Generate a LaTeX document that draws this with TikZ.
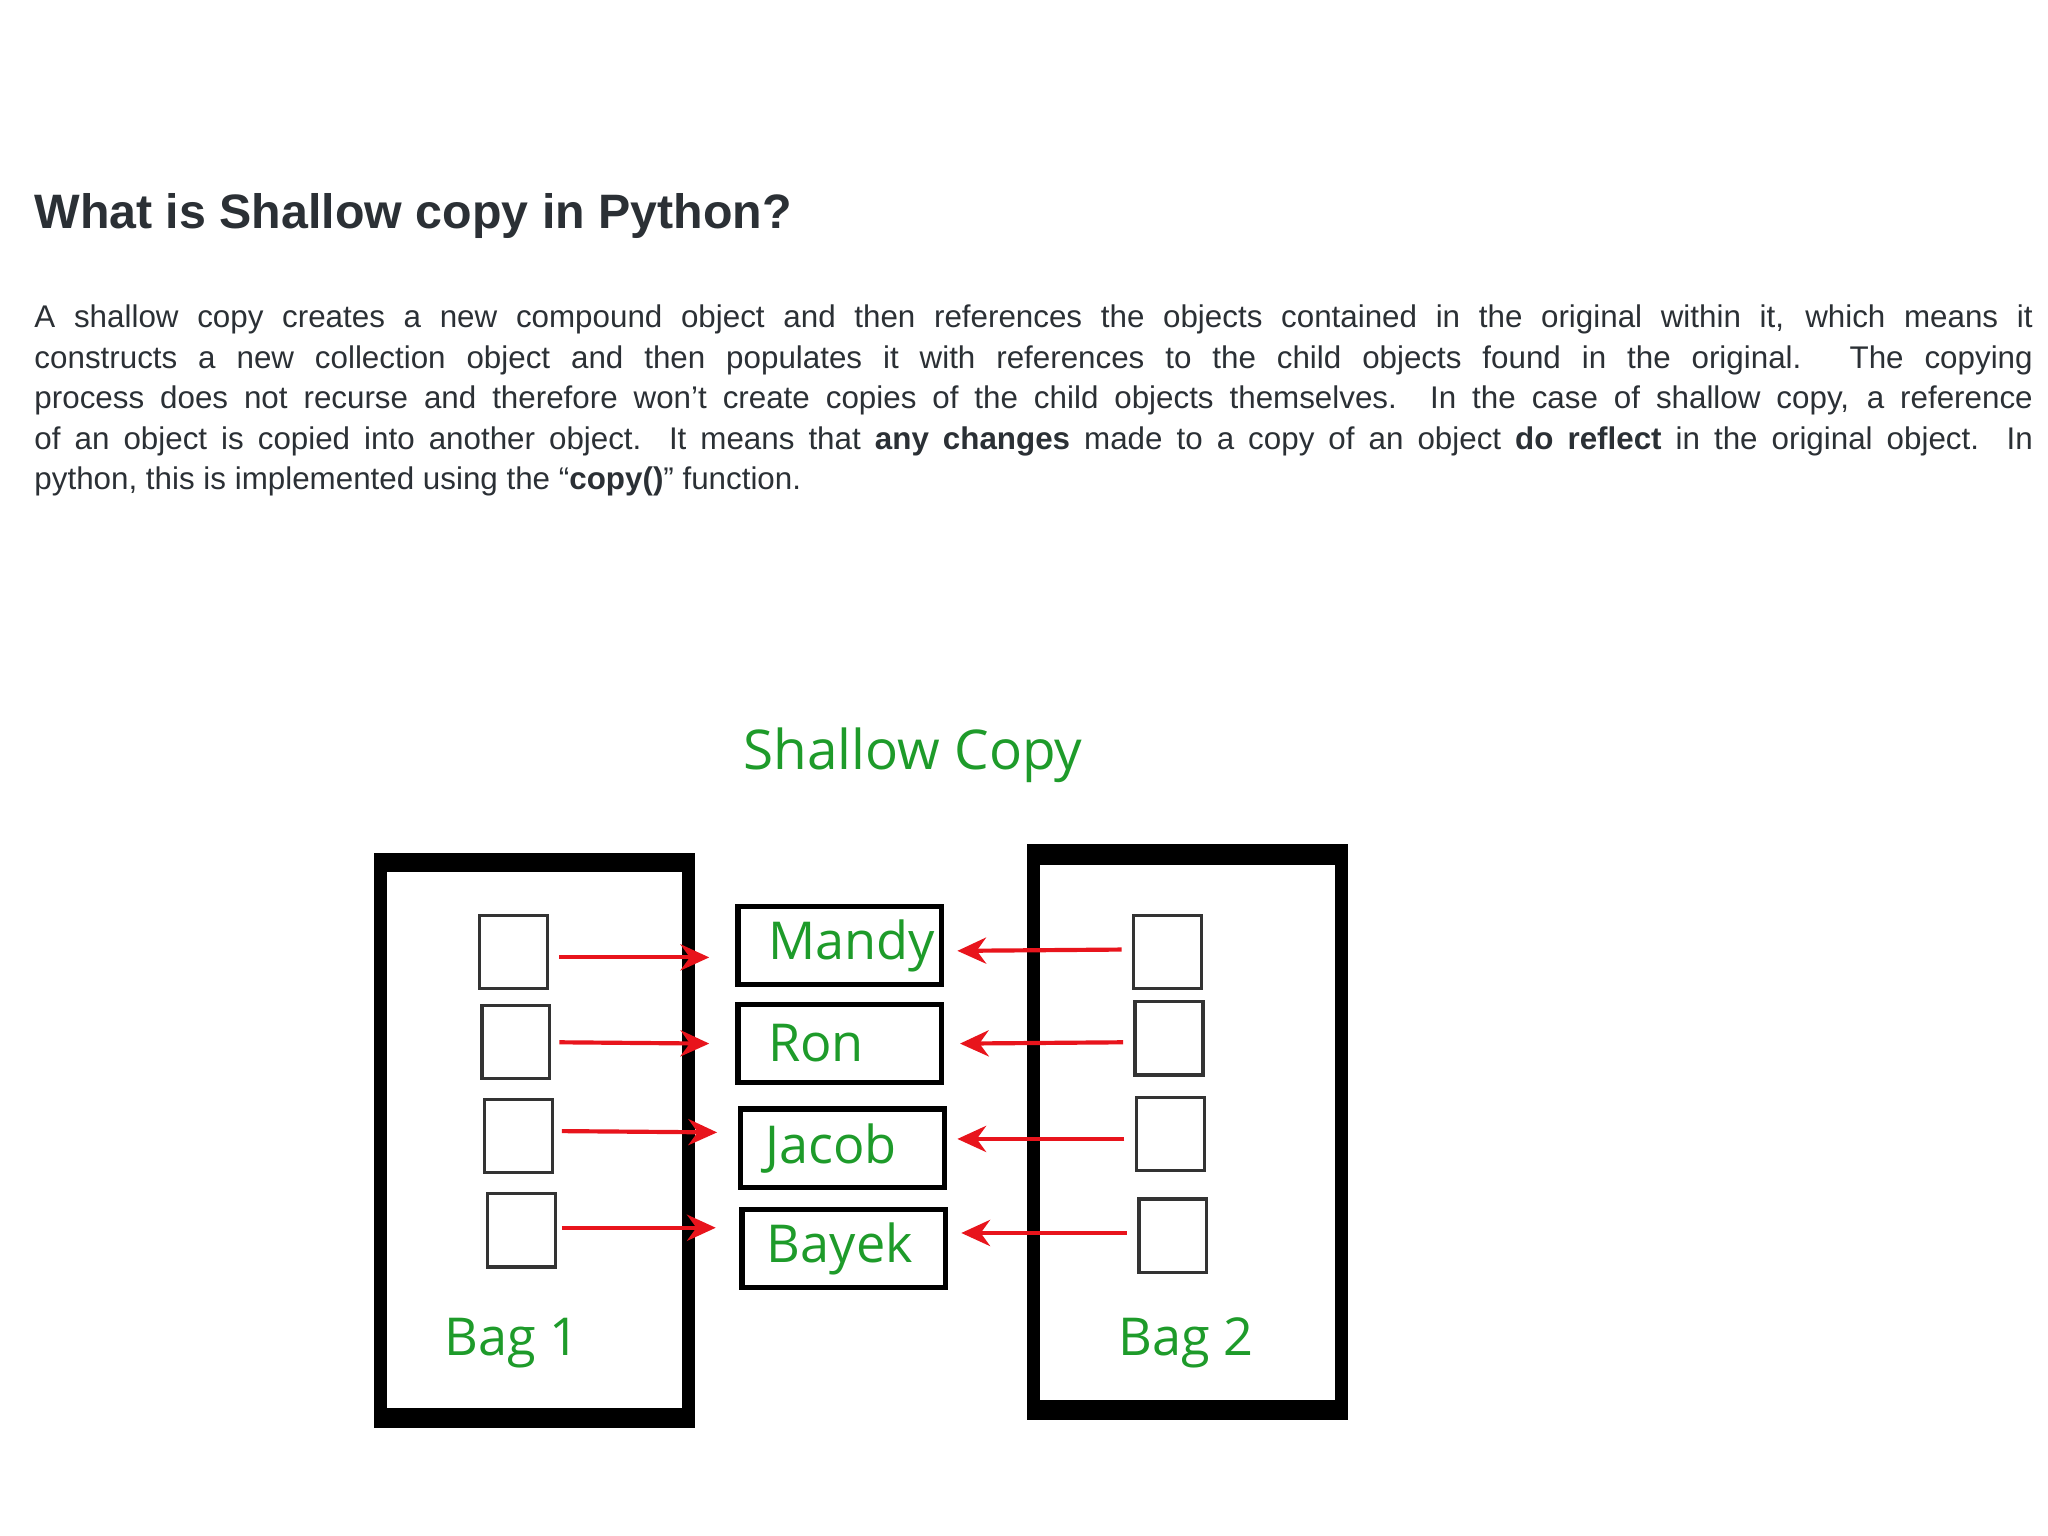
\documentclass[tikz,border=0pt]{standalone}
\usepackage{fontspec}
\setmainfont{Liberation Sans}
\newfontfamily\dfont{Open Sans}
\usetikzlibrary{arrows.meta}
\definecolor{txt}{HTML}{2B3035}
\definecolor{gr}{HTML}{1E9B2A}
\definecolor{rd}{HTML}{E8141C}
\begin{document}
\begin{tikzpicture}[x=0.5pt,y=-0.5pt,
  sq/.style={draw=black!80,line width=1.2pt,minimum width=26pt,minimum height=28pt,inner sep=0pt},
  namebox/.style={draw=black,line width=2pt,minimum width=78pt,minimum height=30pt,inner sep=0pt},
  nm/.style={text=gr,font=\dfont\fontsize{20}{24}\selectfont},
  arr/.style={draw=rd,line width=1.6pt,-{Stealth[length=11pt,width=10pt]}}]
\useasboundingbox[fill=white] (0,0) rectangle (1568,1176);
\node[anchor=base west,text=txt,font=\bfseries\fontsize{18.5}{22}\selectfont,inner sep=0pt] (title) at (26,175) {What is Shallow copy in Python?};
\node[anchor=north west,text=txt,inner sep=0pt,font=\fontsize{12}{15.5}\selectfont,text width=765pt,align=justify] (body) at (26,233) {A shallow copy creates a new compound object and then references the objects contained in the original within it, which means it\linebreak constructs a new collection object and then populates it with references to the child objects found in the original. The copying\linebreak process does not recurse and therefore won’t create copies of the child objects themselves. In the case of shallow copy, a reference\linebreak of an object is copied into another object. It means that \textbf{any changes} made to a copy of an object \textbf{do reflect} in the original object. In\linebreak python, this is implemented using the “\textbf{copy()}” function.};
\node[text=gr,font=\dfont\fontsize{21}{25}\selectfont] (head) at (699,578) {Shallow Copy};
% bags
\fill[black] (286,653) rectangle (532,1093);
\fill[white] (296,668) rectangle (522,1078);
\fill[black] (786,646) rectangle (1032,1087);
\fill[white] (796,662) rectangle (1022,1072);
\node[nm] (bag1) at (392,1028) {Bag 1};
\node[nm] (bag2) at (908,1028) {Bag 2};
% squares
\node[sq] (a1) at (393,729) {};
\node[sq] (a2) at (395,798) {};
\node[sq] (a3) at (397,870) {};
\node[sq] (a4) at (399,942) {};
\node[sq] (b1) at (894,729) {};
\node[sq] (b2) at (895,795) {};
\node[sq] (b3) at (896,868) {};
\node[sq] (b4) at (898,946) {};
% names
\node[namebox] (m) at (643,724) {};
\node[nm,anchor=east] (mt) at (m.east) {Mandy};
\node[namebox] (r) at (643,799) {};
\node[nm,anchor=west] (rt) at ([xshift=9pt]r.west) {Ron};
\node[namebox] (j) at (645,879) {};
\node[nm,anchor=west] (jt) at ([xshift=7pt]j.west) {Jacob};
\node[namebox] (k) at (646,956) {};
\node[nm,anchor=west] (kt) at ([xshift=7pt]k.west) {Bayek};
% arrows
\draw[arr] ([xshift=4pt,yshift=-2pt]a1.east) -- ([xshift=-10pt,yshift=-4.5pt]m.west);
\draw[arr] ([xshift=3pt]a2.east) -- ([xshift=-10pt]r.west);
\draw[arr] ([xshift=3pt,yshift=2pt]a3.east) -- ([xshift=-8pt,yshift=6pt]j.west);
\draw[arr] ([xshift=2pt,yshift=1pt]a4.east) -- ([xshift=-9pt,yshift=8pt]k.west);
\draw[arr] ([xshift=-4pt,yshift=1pt]b1.west) -- ([xshift=5pt,yshift=-2pt]m.east);
\draw[arr] ([xshift=-4pt,yshift=-1.5pt]b2.west) -- ([xshift=6pt,yshift=0pt]r.east);
\draw[arr] ([xshift=-4pt,yshift=-2pt]b3.west) -- ([xshift=4pt,yshift=3.5pt]j.east);
\draw[arr] ([xshift=-4pt,yshift=1pt]b4.west) -- ([xshift=5pt,yshift=6pt]k.east);
\end{tikzpicture}
\end{document}
